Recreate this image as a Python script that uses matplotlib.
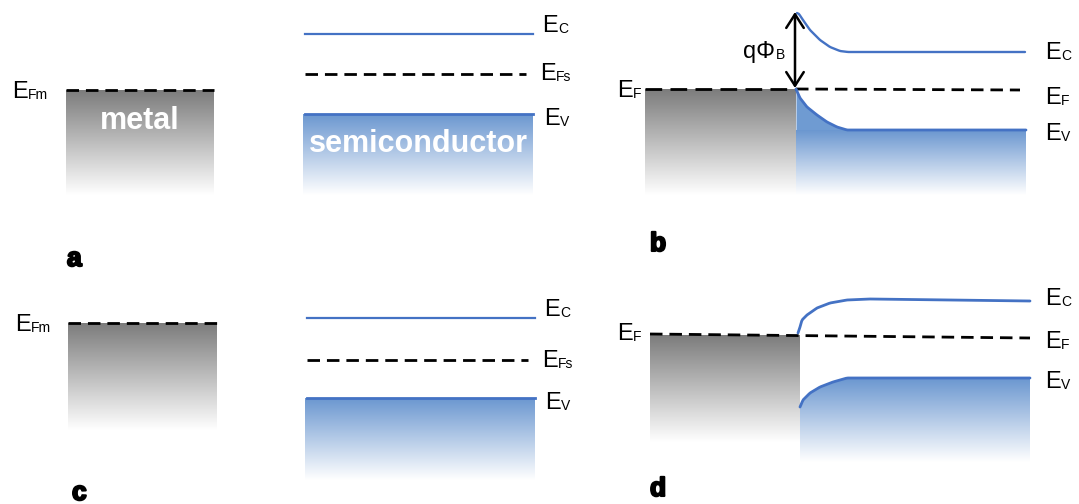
import numpy as np
import matplotlib.pyplot as plt
import matplotlib.patheffects as pe
from matplotlib.colors import LinearSegmentedColormap
from matplotlib.patches import Polygon

plt.rcParams['font.family'] = ['Liberation Sans', 'DejaVu Sans']

# --- niveles (coordenadas en pixeles de la figura) ---
# panel a / c : metal aislado
metal_a = [66, 214, 90, 195]      # x0, x1, y_top, y_bottom
metal_c = [68, 217, 323, 430]
# panel a / c : semiconductor aislado (Ec, EFs, Ev)
semi_a_y = [34, 74, 114]
semi_c_y = [318, 360, 398]
semi_a_x = [305, 533]
semi_c_x = [307, 535]
semi_a_bottom = 195
semi_c_bottom = 480

# panel b : contacto Schottky
metal_b = [645, 796, 89, 195]
EF_b = [[645, 1020], [89, 90]]
Ec_b_x = [797, 799, 803, 810, 820, 830, 840, 848, 1025]
Ec_b_y = [13, 14, 20, 30, 40, 47, 51, 52, 52]
Ev_b_x = [796, 800, 807, 817, 827, 837, 847, 1026]
Ev_b_y = [89, 98, 107, 115, 122, 127, 130, 130]
semi_b_bottom = 195

# panel d : contacto ohmico
metal_d = [650, 800, 335, 442]
EF_d = [[650, 1030], [334, 338]]
Ec_d_x = [798, 800, 802, 807, 817, 830, 847, 870, 1030]
Ec_d_y = [333, 327, 320, 315, 308, 303, 300, 299, 301]
Ev_d_x = [800, 803, 810, 820, 833, 847, 870, 1030]
Ev_d_y = [407, 400, 393, 387, 382, 378, 378, 378]
semi_d_bottom = 462

azul = '#4472C4'
cm_gris = LinearSegmentedColormap.from_list('gris', ['#7c7c7c', '#ffffff'])
cm_azul = LinearSegmentedColormap.from_list('azul', ['#6b97d0', '#ffffff'])
grad = np.linspace(0, 1, 256).reshape(-1, 1)

fig = plt.figure(figsize=(10.79, 5.04), dpi=100)
ax = fig.add_axes([0, 0, 1, 1])


def suave(xs, ys, n=120):
    # curva suave por los puntos leidos (interpolacion monotona simple)
    xs = np.asarray(xs, float)
    ys = np.asarray(ys, float)
    t = np.concatenate([[0], np.cumsum(np.hypot(np.diff(xs), np.diff(ys)))])
    tt = np.linspace(0, t[-1], n)
    return np.interp(tt, t, xs), np.interp(tt, t, ys)


def degradado(x0, x1, y0, y1, cmap, clip=None):
    im = ax.imshow(grad, cmap=cmap, extent=(x0, x1, y1, y0), origin='upper',
                   aspect='auto', interpolation='bilinear', zorder=1)
    if clip is not None:
        poly = Polygon(clip, closed=True, transform=ax.transData)
        im.set_clip_path(poly)
    return im


def elabel(x, y, sub, size=17, subsize=10):
    ax.text(x, y, 'E', fontsize=size, va='baseline', ha='left', zorder=5)
    ax.text(x + 16, y + 1, sub, fontsize=subsize, va='baseline', ha='left', zorder=5)


dash_kw = dict(color='black', lw=2, linestyle=(0, (4.5, 2.5)), zorder=4)
curva_kw = dict(color=azul, lw=2, zorder=4, solid_capstyle='round', solid_joinstyle='round')

# ---------------- panel a ----------------
x0, x1, yt, yb = metal_a
degradado(x0, x1, yt, yb, cm_gris)
ax.plot([x0, x1], [yt, yt], **dash_kw)
elabel(12, 98, 'Fm')
ax.text((x0 + x1) / 2, 121, 'metal', color='white', fontsize=22, fontweight='bold',
        ha='center', va='center', zorder=5)

degradado(semi_a_x[0] - 2, semi_a_x[1], semi_a_y[2], semi_a_bottom, cm_azul)
ax.plot(semi_a_x, [semi_a_y[0]] * 2, color=azul, lw=1.6, zorder=4)
ax.plot([semi_a_x[0], semi_a_x[1] - 7], [semi_a_y[1]] * 2, **dash_kw)
ax.plot(semi_a_x, [semi_a_y[2]] * 2, color=azul, lw=2, zorder=4)
ax.text(418, 144, 'semiconductor', color='white', fontsize=22, fontweight='bold',
        ha='center', va='center', zorder=5)
elabel(542, 32, 'C')
elabel(540, 80, 'Fs')
elabel(544, 125, 'V')

# ---------------- panel b ----------------
x0, x1, yt, yb = metal_b
degradado(x0, x1, yt, yb, cm_gris)
evx, evy = suave(Ev_b_x, Ev_b_y)
ax.fill_between(evx, evy, Ev_b_y[-1], color='#6f9bd2', lw=0, zorder=1)
degradado(Ev_b_x[0], Ev_b_x[-1], Ev_b_y[-1], semi_b_bottom, cm_azul)
ax.plot([EF_b[0][0], x1], [EF_b[1][0]] * 2, color='black', lw=2,
        linestyle=(0, (6, 3)), zorder=4)
ax.plot([x1, EF_b[0][1]], EF_b[1], **dash_kw)
ax.plot(*suave(Ec_b_x, Ec_b_y), **dict(curva_kw, lw=1.7))
ax.plot(evx, evy, **curva_kw)
ax.annotate('', xy=(795, Ec_b_y[0] - 1), xytext=(795, EF_b[1][0] - 1),
            arrowprops=dict(arrowstyle='<->,head_length=0.7,head_width=0.45',
                            mutation_scale=14, lw=1.8, color='black',
                            shrinkA=0, shrinkB=0), zorder=5)
ax.text(743, 58, 'qΦ', fontsize=17, va='baseline', ha='left', zorder=5)
ax.text(776, 59, 'B', fontsize=10, va='baseline', ha='left', zorder=5)
elabel(617, 97, 'F')
elabel(1045, 59, 'C')
elabel(1045, 104, 'F')
elabel(1045, 140, 'V')

# ---------------- panel c ----------------
x0, x1, yt, yb = metal_c
degradado(x0, x1, yt, yb, cm_gris)
ax.plot([x0, x1], [yt, yt], **dash_kw)
elabel(15, 331, 'Fm')

degradado(semi_c_x[0] - 2, semi_c_x[1], semi_c_y[2], semi_c_bottom, cm_azul)
ax.plot(semi_c_x, [semi_c_y[0]] * 2, color=azul, lw=1.6, zorder=4)
ax.plot([semi_c_x[0], semi_c_x[1] - 7], [semi_c_y[1]] * 2, **dash_kw)
ax.plot(semi_c_x, [semi_c_y[2]] * 2, color=azul, lw=2, zorder=4)
elabel(544, 316, 'C')
elabel(542, 367, 'Fs')
elabel(545, 409, 'V')

# ---------------- panel d ----------------
x0, x1, yt, yb = metal_d
degradado(x0, x1, yt, yb, cm_gris)
evx, evy = suave(Ev_d_x, Ev_d_y)
clip_d = list(zip(evx, evy)) + [(Ev_d_x[-1], semi_d_bottom), (Ev_d_x[0], semi_d_bottom)]
degradado(Ev_d_x[0], Ev_d_x[-1], Ev_d_y[-1], semi_d_bottom, cm_azul, clip=clip_d)
ax.plot(EF_d[0], EF_d[1], **dash_kw)
ax.plot(*suave(Ec_d_x, Ec_d_y), **curva_kw)
ax.plot(evx, evy, **curva_kw)
elabel(617, 340, 'F')
elabel(1045, 305, 'C')
elabel(1045, 348, 'F')
elabel(1045, 388, 'V')

# etiquetas de panel
for letra, (px, py) in zip(['a', 'b', 'c', 'd'],
                           [(67, 266), (650, 251), (72, 500), (650, 496)]):
    ax.text(px, py, letra, fontsize=19, fontweight='bold', va='baseline', ha='left',
            path_effects=[pe.withStroke(linewidth=1.5, foreground='black')])

ax.set_xlim(0, 1079)
ax.set_ylim(504, 0)
ax.axis('off')
fig.savefig('out.png', dpi=100)
